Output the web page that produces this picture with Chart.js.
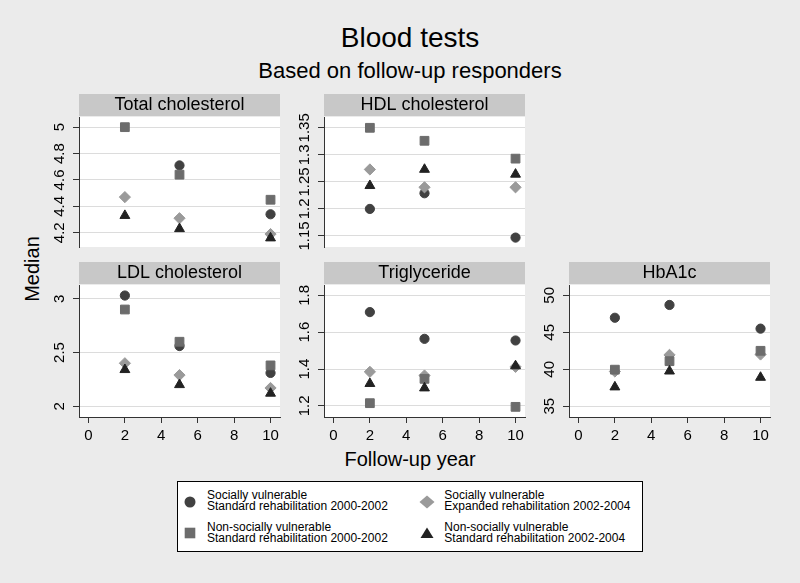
<!DOCTYPE html>
<html><head><meta charset="utf-8">
<script src="https://cdn.jsdelivr.net/npm/chart.js@4/dist/chart.umd.min.js"></script>
<style>
html,body{margin:0;padding:0;}
body{width:800px;height:583px;background:#ebebeb;position:relative;overflow:hidden;font-family:'Liberation Sans',Arial,sans-serif;color:#000;}
.t{position:absolute;white-space:nowrap;line-height:1;}
canvas{position:absolute;}
#legend{position:absolute;left:177px;top:481px;width:464px;height:69px;background:#fff;border:1px solid #000;}
.lt{position:absolute;font-size:12px;line-height:11.3px;white-space:nowrap;}
.lm{position:absolute;}
</style></head>
<body>
<div class="t" id="title" style="left:410px;top:23.6px;font-size:28px;transform:translateX(-50%);">Blood tests</div>
<div class="t" id="subtitle" style="left:410px;top:59.7px;font-size:22px;transform:translateX(-50%);">Based on follow-up responders</div>
<div class="t" id="ytitle" style="left:31.7px;top:269px;font-size:20px;transform:translate(-50%,-50%) rotate(-90deg);">Median</div>
<div class="t" id="xtitle" style="left:410px;top:449px;font-size:20px;transform:translateX(-50%);">Follow-up year</div>
<div id="legend"></div>
<script>
// ---------- data ----------
const years = [2, 5, 10];
const xTicks = [0, 2, 4, 6, 8, 10];
const seriesLabels = [
  ["Socially vulnerable", "Standard rehabilitation 2000-2002"],
  ["Socially vulnerable", "Expanded rehabilitation 2002-2004"],
  ["Non-socially vulnerable", "Standard rehabilitation 2000-2002"],
  ["Non-socially vulnerable", "Standard rehabilitation 2002-2004"]
];
const panelNames = ["Total cholesterol", "HDL cholesterol", "LDL cholesterol", "Triglyceride", "HbA1c"];

// Total cholesterol
const tcCircle   = [null, 4.71, 4.34];
const tcDiamond  = [4.47, 4.31, 4.19];
const tcSquare   = [5.00, 4.64, 4.45];
const tcTriangle = [4.33, 4.23, 4.16];
const tcTicks = [4.2, 4.4, 4.6, 4.8, 5];
const tcTickLabels = ["4.2", "4.4", "4.6", "4.8", "5"];

// HDL cholesterol
const hdlCircle   = [1.200, 1.229, 1.147];
const hdlDiamond  = [1.273, 1.240, 1.240];
const hdlSquare   = [1.350, 1.326, 1.293];
const hdlTriangle = [1.243, 1.273, 1.264];
const hdlTicks = [1.15, 1.2, 1.25, 1.3, 1.35];
const hdlTickLabels = ["1.15", "1.2", "1.25", "1.3", "1.35"];

// LDL cholesterol
const ldlCircle   = [3.03, 2.56, 2.31];
const ldlDiamond  = [2.40, 2.29, 2.17];
const ldlSquare   = [2.90, 2.60, 2.38];
const ldlTriangle = [2.34, 2.20, 2.12];
const ldlTicks = [2, 2.5, 3];
const ldlTickLabels = ["2", "2.5", "3"];

// Triglyceride
const tgCircle   = [1.709, 1.564, 1.555];
const tgDiamond  = [1.385, 1.365, 1.412];
const tgSquare   = [1.215, 1.347, 1.195];
const tgTriangle = [1.321, 1.297, 1.417];
const tgTicks = [1.2, 1.4, 1.6, 1.8];
const tgTickLabels = ["1.2", "1.4", "1.6", "1.8"];

// HbA1c
const hbCircle   = [46.97, 48.7, 45.5];
const hbDiamond  = [39.7, 41.95, 42.0];
const hbSquare   = [39.95, 41.1, 42.5];
const hbTriangle = [37.6, 39.75, 38.9];
const hbTicks = [35, 40, 45, 50];
const hbTickLabels = ["35", "40", "45", "50"];

// ---------- styles ----------
const FONT = "'Liberation Sans', Arial, sans-serif";
Chart.defaults.font.family = FONT;
Chart.defaults.color = '#000';
const markerStyles = [
  {pointStyle: 'circle',   color: '#414141', radius: 4.6},
  {pointStyle: 'rectRot',  color: '#9a9a9a', radius: 5.6},
  {pointStyle: 'rect',     color: '#6c6c6c', radius: 6.2},
  {pointStyle: 'triangle', color: '#222222', radius: 5.7}
];

const measureCtx = document.createElement('canvas').getContext('2d');
measureCtx.font = "15px " + FONT;

const deco = {
  id: 'deco',
  beforeDraw(chart) {
    const {ctx, chartArea: a} = chart;
    ctx.save();
    ctx.fillStyle = '#ffffff';
    ctx.fillRect(a.left, a.top, a.right - a.left, a.bottom - a.top);
    const t = chart.titleBlock;
    ctx.fillStyle = '#c8c8c8';
    ctx.fillRect(a.left, t.top, a.right - a.left, 22);
    ctx.restore();
  }
};

function makePanel(name, rect, bottomRow, yMin, yMax, yTickVals, yTickLabels, series) {
  const [px, py, pw, ph] = rect;
  const cv = document.createElement('canvas');
  const W = pw + 56, H = ph + 26 + (bottomRow ? 34 : 6);
  cv.width = W; cv.height = H;
  cv.style.left = (px - 50) + 'px';
  cv.style.top = (py - 26) + 'px';
  document.body.appendChild(cv);
  const widest = Math.max(...yTickLabels.map(l => measureCtx.measureText(l).width));
  const yPad = 19.5 - 6 - widest / 2;
  const datasets = series.map((vals, i) => ({
    data: years.map((x, j) => ({x: x, y: vals[j]})).filter(p => p.y !== null),
    pointStyle: markerStyles[i].pointStyle,
    pointRadius: markerStyles[i].radius,
    pointBackgroundColor: markerStyles[i].color,
    pointBorderColor: markerStyles[i].color,
    pointBorderWidth: 1,
    pointHoverRadius: markerStyles[i].radius,
    showLine: false,
    clip: false,
    order: 3 - i
  }));
  new Chart(cv, {
    type: 'scatter',
    data: {datasets},
    options: {
      responsive: false,
      animation: false,
      events: [],
      layout: {padding: {left: 0, right: 6, top: 3, bottom: 6}, autoPadding: false},
      plugins: {
        legend: {display: false},
        tooltip: {enabled: false},
        title: {
          display: true, text: name, fullSize: false, color: '#000',
          font: {size: 18, weight: 'normal', lineHeight: '22px'},
          padding: {top: 0, bottom: 1}
        }
      },
      scales: {
        x: {
          type: 'linear', min: -0.52, max: 10.52,
          display: bottomRow,
          afterBuildTicks: s => { s.ticks = xTicks.map(v => ({value: v})); },
          afterFit: s => { if (bottomRow) { s.height = 28; } s.paddingLeft = 0; s.paddingRight = 0; },
          ticks: {font: {size: 15}, color: '#000', padding: 4, maxRotation: 0, autoSkip: false},
          grid: {drawOnChartArea: false, drawTicks: true, tickLength: 6, tickColor: '#333', tickWidth: 1},
          border: {display: true, color: '#333', width: 1}
        },
        y: {
          type: 'linear', min: yMin, max: yMax,
          afterBuildTicks: s => { s.ticks = yTickVals.map(v => ({value: v})); },
          afterFit: s => { s.width = 50; s.paddingTop = 0; s.paddingBottom = 0; },
          ticks: {
            font: {size: 15}, color: '#000', padding: yPad, autoSkip: false,
            minRotation: 90, maxRotation: 90, crossAlign: 'center',
            callback: (v, i) => yTickLabels[i]
          },
          grid: {drawOnChartArea: true, color: '#dcdcdc', lineWidth: 1, drawTicks: true, tickLength: 6, tickColor: '#333', tickWidth: 1},
          border: {display: true, color: '#333', width: 1}
        }
      }
    },
    plugins: [deco]
  });
}

makePanel(panelNames[0], [79, 117, 201, 130], false, 4.092, 5.077, tcTicks, tcTickLabels,
  [tcCircle, tcDiamond, tcSquare, tcTriangle]);
makePanel(panelNames[1], [324, 117, 201, 130], false, 1.1296, 1.370, hdlTicks, hdlTickLabels,
  [hdlCircle, hdlDiamond, hdlSquare, hdlTriangle]);
makePanel(panelNames[2], [79, 285, 201, 132], true, 1.90, 3.128, ldlTicks, ldlTickLabels,
  [ldlCircle, ldlDiamond, ldlSquare, ldlTriangle]);
makePanel(panelNames[3], [324, 285, 201, 132], true, 1.14, 1.856, tgTicks, tgTickLabels,
  [tgCircle, tgDiamond, tgSquare, tgTriangle]);
makePanel(panelNames[4], [569, 285, 201, 132], true, 33.55, 51.4, hbTicks, hbTickLabels,
  [hbCircle, hbDiamond, hbSquare, hbTriangle]);

// ---------- legend (HTML, built from the series arrays) ----------
const legendPos = [
  {mx: 12.3, my: 19.7, tx: 29, ty: 8.2},
  {mx: 249, my: 19.7, tx: 266.3, ty: 8.2},
  {mx: 12.3, my: 51, tx: 29, ty: 40.2},
  {mx: 249, my: 51, tx: 266.3, ty: 40.2}
];
function markerSvg(i) {
  const c = markerStyles[i].color;
  const shapes = [
    `<circle cx="8" cy="8" r="5.5" fill="${c}"/>`,
    `<polygon points="0.5,8 8,1.5 15.5,8 8,14.5" fill="${c}"/>`,
    `<rect x="2.7" y="2.7" width="10.6" height="10.6" fill="${c}"/>`,
    `<polygon points="1.5,13 8,2.5 14.5,13" fill="${c}"/>`
  ];
  return `<svg width="16" height="16" viewBox="0 0 16 16">${shapes[i]}</svg>`;
}
const leg = document.getElementById('legend');
seriesLabels.forEach((lines, i) => {
  const p = legendPos[i];
  const m = document.createElement('div');
  m.className = 'lm';
  m.style.left = (p.mx - 8) + 'px';
  m.style.top = (p.my - 8) + 'px';
  m.innerHTML = markerSvg(i);
  leg.appendChild(m);
  const t = document.createElement('div');
  t.className = 'lt';
  t.style.left = p.tx + 'px';
  t.style.top = p.ty + 'px';
  t.innerHTML = lines.join('<br>');
  leg.appendChild(t);
});
</script>
</body></html>
